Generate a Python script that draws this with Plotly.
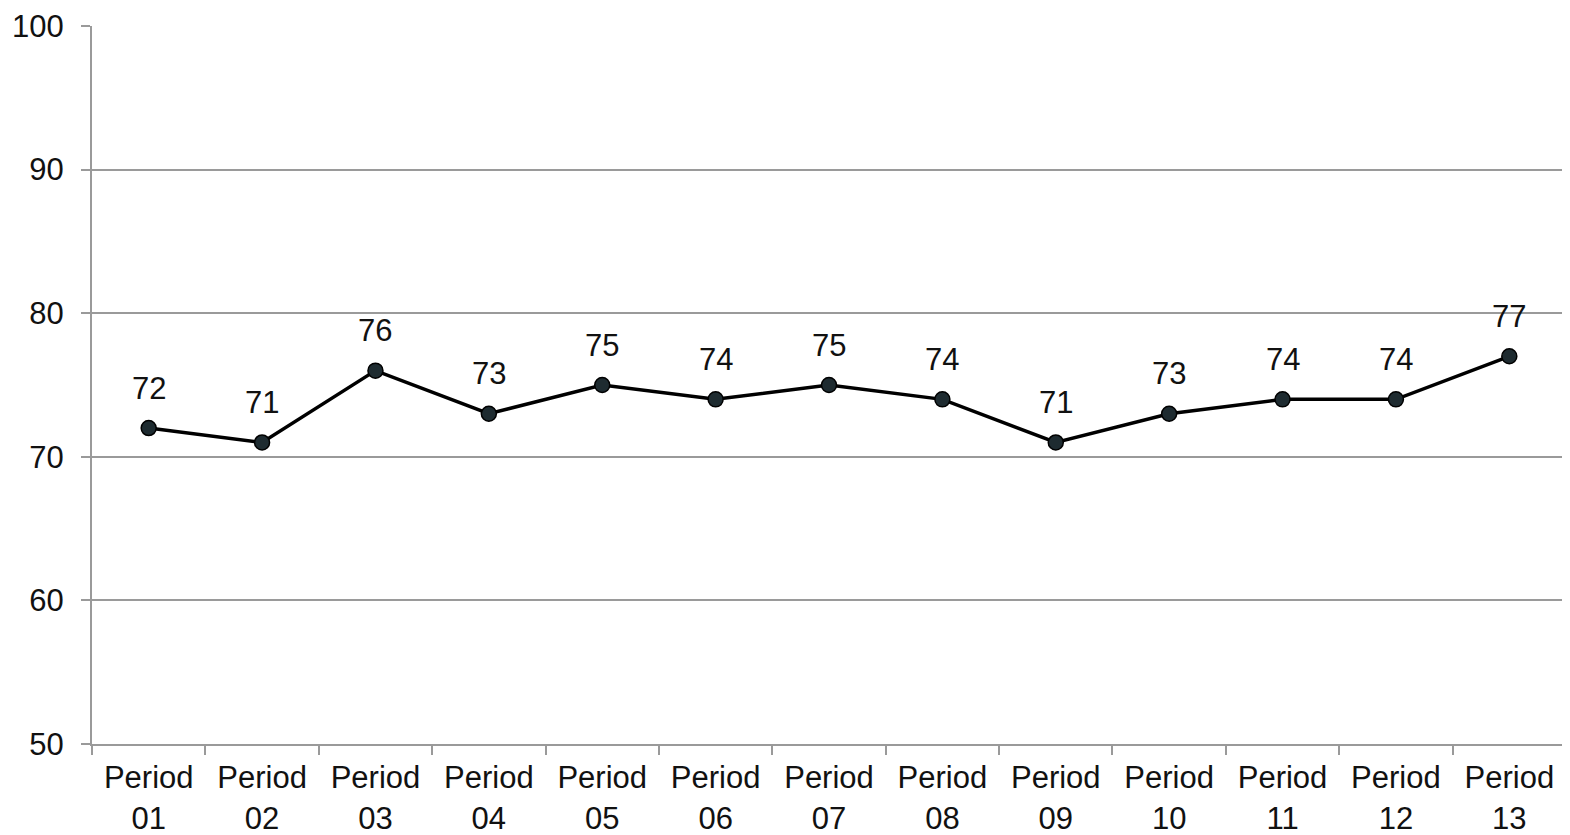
import plotly.graph_objects as go

categories = ["Period<br>01", "Period<br>02", "Period<br>03", "Period<br>04", "Period<br>05",
              "Period<br>06", "Period<br>07", "Period<br>08", "Period<br>09", "Period<br>10",
              "Period<br>11", "Period<br>12", "Period<br>13"]
values = [72, 71, 76, 73, 75, 74, 75, 74, 71, 73, 74, 74, 77]
y_ticks = [50, 60, 70, 80, 90, 100]

FONT = "Liberation Sans, Arial, sans-serif"
GRID = "#9a9a9a"
FS = 31

fig = go.Figure()
fig.add_trace(go.Scatter(
    x=categories, y=values,
    mode="lines+markers",
    line=dict(color="#000000", width=3.5),
    marker=dict(size=15, color="#1e2b30", line=dict(color="#000000", width=1.5)),
    cliponaxis=False,
    showlegend=False,
))
for c, v in zip(categories, values):
    fig.add_annotation(x=c, y=v, text=str(v), showarrow=False, yshift=40,
                       font=dict(family=FONT, size=FS, color="#111111"))

fig.update_layout(
    width=1562, height=827,
    margin=dict(l=84, r=4, t=18, b=91),
    paper_bgcolor="white", plot_bgcolor="white",
    font=dict(family=FONT, size=FS, color="#111111"),
)
fig.update_xaxes(
    type="category", range=[-0.5, 12.5], automargin=False,
    tickson="boundaries", ticks="outside", ticklen=9, tickwidth=2, tickcolor=GRID,
    showline=True, linecolor=GRID, linewidth=2,
    showgrid=False, zeroline=False, ticklabelstandoff=5,
    tickfont=dict(family=FONT, size=FS, color="#111111"),
)
fig.update_yaxes(
    range=[50, 100], tickvals=y_ticks, automargin=False,
    ticks="outside", ticklen=9, tickwidth=2, tickcolor=GRID,
    showline=True, linecolor=GRID, linewidth=2,
    showgrid=True, gridcolor=GRID, gridwidth=2,
    zeroline=False, ticklabelstandoff=11,
    tickfont=dict(family=FONT, size=FS, color="#111111"),
)

fig.write_html("out.html")
